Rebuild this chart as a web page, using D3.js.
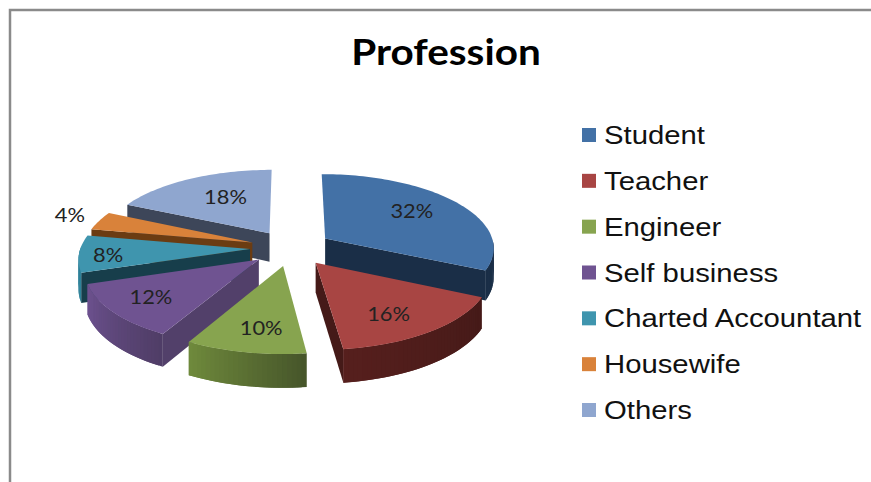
<!DOCTYPE html>
<html>
<head>
<meta charset="utf-8">
<script src="https://cdnjs.cloudflare.com/ajax/libs/d3/7.8.5/d3.min.js"></script>
<style>
  html, body { margin: 0; padding: 0; background: #fff; }
  svg { display: block; }
</style>
</head>
<body>
<svg width="871" height="482"></svg>
<script>
const categories = ["Student", "Teacher", "Engineer", "Self business", "Charted Accountant", "Housewife", "Others"];
const values = [32, 16, 10, 12, 8, 4, 18];

// colours, same order as the categories
const topColors = ["#4371a6", "#a84543", "#87a44f", "#6f5391", "#3f95ae", "#d9823a", "#8fa6cf"];
const faceColors = ["#1a2e47", "#451a18", "#46552a", "#52406a", "#173e4b", "#6b3c12", "#3d4659"];
const rimLeft = ["#1a2e47", "#561f1d", "#6f8a3c", "#6d5290", "#2f8299", "#6b3c12", "#3d4659"];
const rimRight = ["#1a2e47", "#451a18", "#46552a", "#4f3d66", "#2f8299", "#6b3c12", "#3d4659"];
// where the percent label sits: across the slice (0-1) and out from the tip (1 = rim)
const labelAcross = [0.47, 0.58, 0.44, 0.51, 0.42, 0.57, 0.57];
const labelReach = [0.68, 0.73, 0.74, 0.75, 0.83, 1.21, 0.62];
// back to front
const drawOrder = [0, 6, 5, 4, 3, 1, 2];

const svg = d3.select("svg"),
  cx = 291,
  cy = 248,
  radius = 169.5,
  explode = 41,
  tilt = 0.435,
  focal = 1500,
  depth = 29;

// flat pie coordinates -> screen, with a bit of perspective towards the viewer
function project(x, y, down) {
  const s = focal / (focal - y);
  return [cx + x * s, cy + y * tilt * s + (down || 0) * s];
}

function slicePoint(d, angle, r, down) {
  const mid = (d.startAngle + d.endAngle) / 2;
  const x = Math.sin(mid) * explode + Math.sin(angle) * r;
  const y = -Math.cos(mid) * explode - Math.cos(angle) * r;
  return project(x, y, down);
}

const pie = d3.pie().sort(null);
const slices = pie(values);
const line = d3.line();

svg.append("path")
  .attr("d", "M10,482V10H871")
  .attr("fill", "none")
  .attr("stroke", "#8a8a8a")
  .attr("stroke-width", 2.5);

const pieG = svg.append("g");

drawOrder.forEach(function (i) {
  const d = slices[i];
  const g = pieG.append("g");
  const steps = Math.max(6, Math.round((d.endAngle - d.startAngle) * 40));
  const angles = d3.range(steps + 1).map(function (k) {
    return d.startAngle + (d.endAngle - d.startAngle) * k / steps;
  });

  function radialFace(angle) {
    return line([
      slicePoint(d, angle, 0, 0),
      slicePoint(d, angle, radius, 0),
      slicePoint(d, angle, radius, depth),
      slicePoint(d, angle, 0, depth)
    ]) + "Z";
  }

  if (Math.sin(d.startAngle) < -0.001) {
    g.append("path").attr("d", radialFace(d.startAngle)).attr("fill", faceColors[i]);
  }
  if (Math.sin(d.endAngle) > 0.001) {
    g.append("path").attr("d", radialFace(d.endAngle)).attr("fill", faceColors[i]);
  }

  // outer wall, small quads so the shade can run along it
  // each quad reaches over the next one, otherwise the seams show as streaks
  const shade = d3.scaleLinear().domain([d.endAngle, d.startAngle]).range([rimLeft[i], rimRight[i]]);
  const step = (d.endAngle - d.startAngle) / steps;
  d3.pairs(angles).forEach(function (p) {
    if (Math.cos((p[0] + p[1]) / 2) > 0) return; // back half is hidden
    const far = Math.min(p[1] + step, d.endAngle);
    g.append("path")
      .attr("d", line([
        slicePoint(d, p[0], radius, 0),
        slicePoint(d, far, radius, 0),
        slicePoint(d, far, radius, depth),
        slicePoint(d, p[0], radius, depth)
      ]) + "Z")
      .attr("fill", shade((p[0] + p[1]) / 2));
  });

  const rim = angles.map(function (a) { return slicePoint(d, a, radius, 0); });
  g.append("path")
    .attr("d", line([slicePoint(d, d.startAngle, 0, 0)].concat(rim)) + "Z")
    .attr("fill", topColors[i]);
});

// percent labels on top of everything
slices.forEach(function (d, i) {
  const angle = d.startAngle + (d.endAngle - d.startAngle) * labelAcross[i];
  const p = slicePoint(d, angle, radius * labelReach[i], 0);
  svg.append("text")
    .attr("transform", "translate(" + p[0] + "," + p[1] + ") scale(1.15,1)")
    .attr("dy", "0.35em")
    .attr("text-anchor", "middle")
    .attr("font-family", "Lato, sans-serif")
    .attr("font-size", 19)
    .attr("fill", "#222")
    .text(d.data + "%");
});

// the reference is a stretched screenshot, so the text is wider than it is tall
svg.append("text")
  .attr("transform", "translate(446,65) scale(1.125,1)")
  .attr("text-anchor", "middle")
  .attr("font-family", "Lato, sans-serif")
  .attr("font-weight", "bold")
  .attr("font-size", 36)
  .attr("fill", "#000")
  .text("Profession");

const legendY = d3.scalePoint().domain(categories).range([135, 410]);

const legend = svg.append("g")
  .selectAll("g")
  .data(categories)
  .enter()
  .append("g")
  .attr("transform", function (d) { return "translate(582," + legendY(d) + ")"; });

legend.append("rect")
  .attr("x", 0)
  .attr("y", -7)
  .attr("width", 14)
  .attr("height", 14)
  .attr("fill", function (d, i) { return topColors[i]; });

legend.append("text")
  .attr("transform", "translate(22,9) scale(1.127,1)")
  .attr("font-family", "Liberation Sans, Arial, sans-serif")
  .attr("font-size", 26)
  .attr("fill", "#111")
  .text(function (d) { return d; });
</script>
</body>
</html>
